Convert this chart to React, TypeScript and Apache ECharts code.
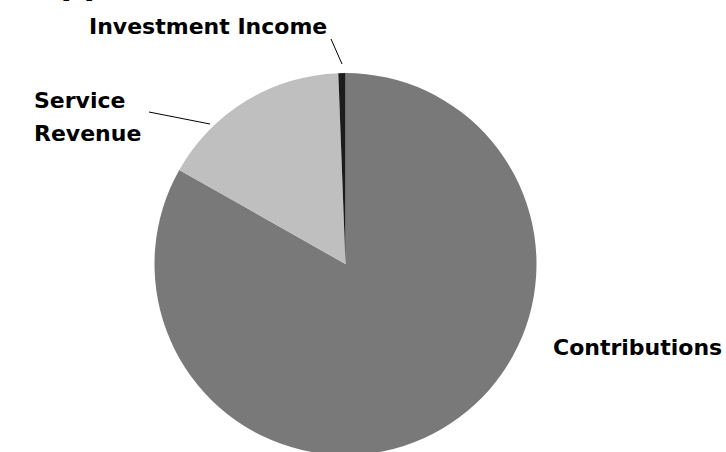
import React, { useEffect, useRef } from "react";
import * as echarts from "echarts";

const categories = ["Contributions", "Service Revenue", "Investment Income"];
const labelTexts = ["Contributions", "Service\nRevenue", "Investment Income"];
const values = [83.2, 16.2, 0.6];
const colors = ["#797979", "#bfbfbf", "#1c1c1c"];
const titleText = "Support";

const labelPlaces = [
  { x: 553, y: 347, line: null as null | number[][] },
  { x: 34, y: 117, line: [[149, 112], [210, 124]] },
  { x: 89, y: 26, line: [[331, 39], [342, 64]] },
];

export default function App() {
  const ref = useRef<HTMLDivElement>(null);
  useEffect(() => {
    if (!ref.current) return;
    const chart = echarts.init(ref.current, undefined, { renderer: "svg" });
    const font = "'DejaVu Sans', sans-serif";
    chart.setOption({
      animation: false,
      backgroundColor: "#ffffff",
      graphic: [
        {
          type: "text",
          left: 15,
          top: -33,
          style: {
            text: titleText,
            fontFamily: font,
            fontWeight: "bold",
            fontSize: 32,
            fill: "#000000",
          },
        },
      ],
      series: [
        {
          type: "pie",
          center: [345.5, 264],
          radius: 191,
          startAngle: 90,
          clockwise: true,
          avoidLabelOverlap: false,
          data: categories.map((c, i) => ({
            name: c,
            value: values[i],
            itemStyle: { color: colors[i] },
            label: { formatter: labelTexts[i] },
            labelLine: { show: labelPlaces[i].line !== null },
          })),
          itemStyle: { borderWidth: 0 },
          label: {
            show: true,
            position: "outside",
            fontFamily: font,
            fontWeight: "bold",
            fontSize: 22,
            lineHeight: 33,
            color: "#000000",
            align: "left",
          },
          labelLine: {
            show: true,
            lineStyle: { color: "#000000", width: 1 },
          },
          labelLayout: (p: any) => {
            const lp = labelPlaces[p.dataIndex];
            const r: any = {
              x: lp.x,
              y: lp.y,
              align: "left",
              verticalAlign: "middle",
            };
            if (lp.line) r.labelLinePoints = lp.line;
            return r;
          },
          emphasis: { disabled: true },
        },
      ],
    });
    return () => chart.dispose();
  }, []);
  return (
    <div
      ref={ref}
      style={{ position: "fixed", left: 0, top: 0, width: 726, height: 452 }}
    />
  );
}
